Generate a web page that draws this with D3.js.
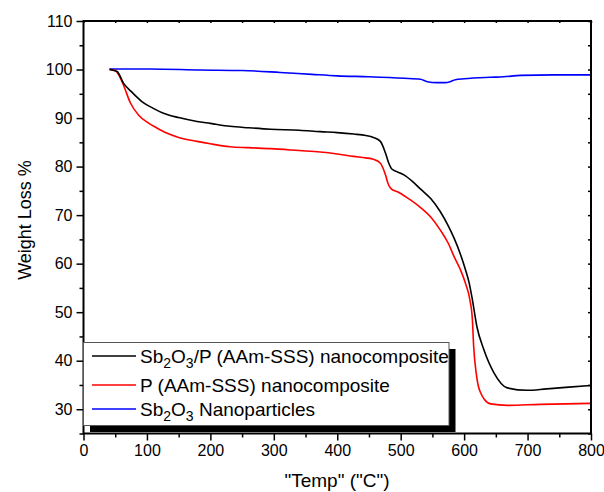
<!DOCTYPE html>
<html>
<head>
<meta charset="utf-8">
<script src="https://cdn.jsdelivr.net/npm/d3@7"></script>
<style>
body { margin: 0; background: #fff; }
text { font-family: Arial, "Liberation Sans", sans-serif; fill: #000; }
</style>
</head>
<body>
<div id="chart"></div>
<script>
// TGA curves
var tempBlack = [41, 48, 53, 63, 75, 92, 110, 126, 150, 179, 200, 231, 260, 295, 340, 373, 400, 426, 445, 457, 468, 476, 481, 486, 495, 505, 518, 531, 548, 562, 575, 584, 594, 602, 608, 613, 620, 631, 647, 668, 699, 730, 760, 799];
var wlBlack = [100, 99.8, 99.6, 97.2, 95.5, 93.4, 92.0, 91.0, 90.1, 89.3, 88.9, 88.3, 88.0, 87.7, 87.5, 87.2, 87.0, 86.7, 86.4, 86.0, 85.2, 82.8, 80.8, 79.5, 78.9, 78.3, 77.0, 75.4, 73.3, 70.8, 67.8, 65.3, 62.0, 58.8, 56.0, 52.6, 47.1, 42.3, 37.5, 34.4, 33.9, 34.2, 34.5, 34.9];

var tempRed = [41, 47, 51, 56, 63, 74, 87, 102, 115, 131, 150, 179, 200, 231, 260, 295, 340, 373, 400, 426, 445, 457, 468, 476, 480, 485, 495, 510, 530, 548, 562, 575, 584, 594, 602, 609, 613, 615, 619, 622, 626, 632, 642, 668, 720, 760, 799];
var wlRed = [100, 99.9, 99.7, 98.8, 96.8, 93.1, 90.6, 89.0, 88.0, 86.9, 86.0, 85.2, 84.7, 84.1, 83.9, 83.7, 83.3, 83.0, 82.6, 82.1, 81.8, 81.5, 80.7, 78.3, 76.5, 75.4, 74.8, 73.6, 71.7, 69.5, 67.0, 64.2, 61.5, 58.8, 56.0, 52.6, 48.5, 43.0, 37.5, 35.0, 33.4, 32.0, 31.1, 30.8, 31.0, 31.1, 31.2];

var tempBlue = [41, 105, 184, 250, 310, 360, 400, 450, 505, 531, 542, 557, 570, 578, 586, 600, 641, 662, 689, 742, 799];
var wlBlue = [100.1, 100.1, 99.9, 99.8, 99.4, 99.0, 98.7, 98.5, 98.2, 98.0, 97.5, 97.3, 97.3, 97.5, 97.9, 98.1, 98.4, 98.5, 98.8, 98.9, 98.9];

var xMajor = [0, 100, 200, 300, 400, 500, 600, 700, 800];
var xMinor = [50, 150, 250, 350, 450, 550, 650, 750];
var yMajor = [30, 40, 50, 60, 70, 80, 90, 100, 110];
var yMinor = [25, 35, 45, 55, 65, 75, 85, 95, 105];

var seriesNames = ["Sb2O3/P (AAm-SSS) nanocomposite", "P (AAm-SSS) nanocomposite", "Sb2O3 Nanoparticles"];
var seriesColors = ["#000000", "#ff0000", "#0000ff"];

var plotLeft = 83.5, plotRight = 591, plotTop = 21, plotBottom = 433.5;

var svgCanvas = d3.select("#chart")
    .append("svg")
    .attr("width", 604)
    .attr("height", 492);

var xScale = d3.scaleLinear().domain([0, 800]).range([plotLeft, plotRight]);
var yScale = d3.scaleLinear().domain([25, 110]).range([plotBottom, plotTop]);

function toPoints(xs, ys) {
    var pts = [];
    for (var i = 0; i < xs.length; i++) {
        pts.push([xs[i], ys[i]]);
    }
    return pts;
}

var allSeries = [toPoints(tempBlack, wlBlack), toPoints(tempRed, wlRed), toPoints(tempBlue, wlBlue)];

var line = d3.line()
    .x(function(d) { return xScale(d[0]); })
    .y(function(d) { return yScale(d[1]); })
    .curve(d3.curveMonotoneX);

// curves (blue drawn first, black on top)
svgCanvas.selectAll(".curve")
    .data([2, 1, 0])
    .enter()
    .append("path")
    .attr("class", "curve")
    .attr("fill", "none")
    .attr("stroke", function(i) { return seriesColors[i]; })
    .attr("stroke-width", 1.6)
    .attr("d", function(i) { return line(allSeries[i]); });

// axes
function styleAxis(g) {
    g.select(".domain").remove();
    g.selectAll(".tick line").attr("stroke", "#000").attr("stroke-width", 1.5);
    g.selectAll(".tick text").style("font-size", "16px").style("font-family", "Arial, 'Liberation Sans', sans-serif");
}

svgCanvas.append("g")
    .attr("transform", "translate(0," + plotBottom + ")")
    .call(d3.axisBottom(xScale).tickValues(xMajor).tickSize(7).tickPadding(4).tickFormat(d3.format("d")))
    .call(styleAxis);

svgCanvas.append("g")
    .attr("transform", "translate(0," + plotBottom + ")")
    .call(d3.axisBottom(xScale).tickValues(xMinor).tickSize(4).tickFormat(""))
    .call(styleAxis);

svgCanvas.append("g")
    .attr("transform", "translate(" + plotLeft + ",0)")
    .call(d3.axisLeft(yScale).tickValues(yMajor).tickSize(7).tickPadding(4).tickFormat(d3.format("d")))
    .call(styleAxis);

svgCanvas.append("g")
    .attr("transform", "translate(" + plotLeft + ",0)")
    .call(d3.axisLeft(yScale).tickValues(yMinor).tickSize(4).tickFormat(""))
    .call(styleAxis);

// right and top ticks point inward
svgCanvas.append("g")
    .attr("transform", "translate(" + plotRight + ",0)")
    .call(d3.axisRight(yScale).tickValues(yMajor.concat(yMinor)).tickSize(-3).tickFormat(""))
    .call(styleAxis);

svgCanvas.append("g")
    .attr("transform", "translate(0," + plotTop + ")")
    .call(d3.axisTop(xScale).tickValues(xMajor.concat(xMinor)).tickSize(-2).tickFormat(""))
    .call(styleAxis);

// frame
svgCanvas.append("rect")
    .attr("x", plotLeft)
    .attr("y", plotTop)
    .attr("width", plotRight - plotLeft)
    .attr("height", plotBottom - plotTop)
    .attr("fill", "none")
    .attr("stroke", "#000")
    .attr("stroke-width", 2);

// axis titles
svgCanvas.append("text")
    .attr("transform", "translate(31,220) rotate(-90)")
    .attr("text-anchor", "middle")
    .style("font-size", "18px")
    .text("Weight Loss %");

svgCanvas.append("text")
    .attr("x", 337)
    .attr("y", 487)
    .attr("text-anchor", "middle")
    .style("font-size", "19px")
    .text("\"Temp\" (\"C\")");

// legend with shadow
var legX = 83.5, legY = 342.5, legW = 365.5, legH = 83;
svgCanvas.append("rect")
    .attr("x", legX + 6.5)
    .attr("y", legY + 6.5)
    .attr("width", legW)
    .attr("height", legH)
    .attr("fill", "#000");

svgCanvas.append("rect")
    .attr("x", legX)
    .attr("y", legY)
    .attr("width", legW)
    .attr("height", legH)
    .attr("fill", "#fff")
    .attr("stroke", "#555")
    .attr("stroke-width", 1);

var rowY = [356, 385, 409];

svgCanvas.selectAll(".legLine")
    .data([0, 1, 2])
    .enter()
    .append("line")
    .attr("class", "legLine")
    .attr("x1", 92)
    .attr("x2", 136)
    .attr("y1", function(i) { return rowY[i]; })
    .attr("y2", function(i) { return rowY[i]; })
    .attr("stroke", function(i) { return seriesColors[i]; })
    .attr("stroke-width", 1.5);

// split names so the digits after Sb and O become subscripts
function addLabel(i) {
    var t = svgCanvas.append("text")
        .attr("x", 140)
        .attr("y", rowY[i] + 7)
        .style("font-size", "19px");
    var parts = seriesNames[i].split(/(\d)/);
    var shifted = false;
    parts.forEach(function(p) {
        if (p === "") return;
        var sp = t.append("tspan").text(p);
        if (/\d/.test(p)) {
            sp.style("font-size", "14px").attr("dy", shifted ? 0 : 5);
            shifted = true;
        } else if (shifted) {
            sp.attr("dy", -5);
            shifted = false;
        }
    });
}
addLabel(0);
addLabel(1);
addLabel(2);
</script>
</body>
</html>
